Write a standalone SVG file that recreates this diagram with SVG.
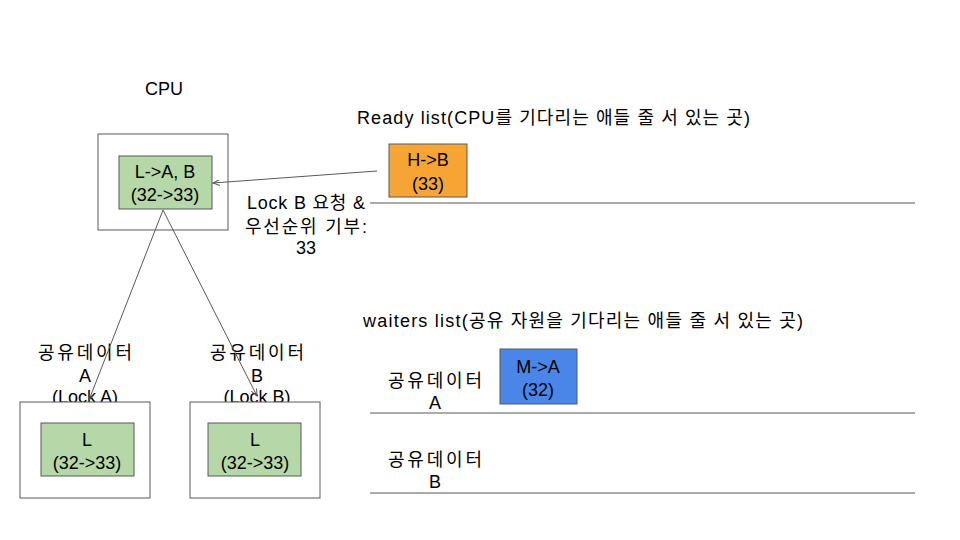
<svg xmlns="http://www.w3.org/2000/svg" width="960" height="540" viewBox="0 0 960 540">
<style>
text{font-family:"Liberation Sans","Noto Sans CJK KR",sans-serif;font-size:18px;fill:#000;text-anchor:middle}
.l{text-anchor:start}
.box{fill:#fff;stroke:#595959;stroke-width:1}
.green{fill:#b6d7a8;stroke:#595959;stroke-width:1}
.orange{fill:#f6a535;stroke:#595959;stroke-width:1}
.blue{fill:#4a86e8;stroke:#595959;stroke-width:1}
.conn{stroke:#595959;stroke-width:1;fill:none}
.rule{stroke:#595959;stroke-width:1}
</style>
<defs>
<marker id="ah" markerWidth="8" markerHeight="6" refX="7" refY="3" orient="auto" markerUnits="userSpaceOnUse">
<path d="M0,0 L7,3 L0,6" fill="none" stroke="#595959" stroke-width="1"/>
</marker>
</defs>
<rect width="960" height="540" fill="#fff"/>

<g id="cpu">
<text x="164" y="95">CPU</text>
<rect class="box" x="98" y="134" width="130" height="96"/>
<rect class="green" x="119" y="156" width="93" height="53"/>
<text x="165" y="178">L-&gt;A, B</text>
<text x="165" y="201">(32-&gt;33)</text>
</g>

<g id="ready-list">
<text class="l" x="357" y="124" textLength="393" lengthAdjust="spacing">Ready list(CPU를 기다리는 애들 줄 서 있는 곳)</text>
<line class="rule" x1="370" y1="203" x2="915" y2="203"/>
</g>

<g id="hb">
<rect class="orange" x="389" y="144" width="78" height="53"/>
<text x="428" y="166">H-&gt;B</text>
<text x="428" y="190">(33)</text>
</g>

<g id="donate-label">
<text x="306" y="209" textLength="118" lengthAdjust="spacing">Lock B 요청 &amp;</text>
<text x="306" y="233" textLength="122" lengthAdjust="spacing">우선순위 기부:</text>
<text x="306" y="254">33</text>
</g>

<g id="waiters-list">
<text class="l" x="363" y="327" textLength="440" lengthAdjust="spacing">waiters list(공유 자원을 기다리는 애들 줄 서 있는 곳)</text>
<text x="435" y="387" textLength="94" lengthAdjust="spacing">공유데이터</text>
<text x="435" y="409">A</text>
<line class="rule" x1="370" y1="413" x2="915" y2="413"/>
<text x="435" y="466" textLength="94" lengthAdjust="spacing">공유데이터</text>
<text x="435" y="488">B</text>
<line class="rule" x1="370" y1="493" x2="915" y2="493"/>
</g>

<g id="ma">
<rect class="blue" x="500" y="349" width="77" height="55"/>
<text x="538" y="373">M-&gt;A</text>
<text x="538" y="396">(32)</text>
</g>

<g id="data-a">
<text x="85" y="359" textLength="94" lengthAdjust="spacing">공유데이터</text>
<text x="85" y="382">A</text>
<text x="85" y="403">(Lock A)</text>
<rect class="box" x="20" y="402" width="130" height="96"/>
<rect class="green" x="41" y="423" width="93" height="53"/>
<text x="87" y="446">L</text>
<text x="87" y="469">(32-&gt;33)</text>
</g>

<g id="data-b">
<text x="257" y="359" textLength="94" lengthAdjust="spacing">공유데이터</text>
<text x="257" y="382">B</text>
<text x="257" y="403">(Lock B)</text>
<rect class="box" x="190" y="402" width="130" height="96"/>
<rect class="green" x="208" y="423" width="93" height="53"/>
<text x="255" y="446">L</text>
<text x="255" y="469">(32-&gt;33)</text>
</g>

<g id="connectors">
<line class="conn" x1="377" y1="171" x2="213" y2="183" marker-end="url(#ah)"/>
<line class="conn" x1="163" y1="210" x2="89" y2="400" marker-end="url(#ah)"/>
<line class="conn" x1="163" y1="210" x2="257" y2="396" marker-end="url(#ah)"/>
</g>
</svg>
